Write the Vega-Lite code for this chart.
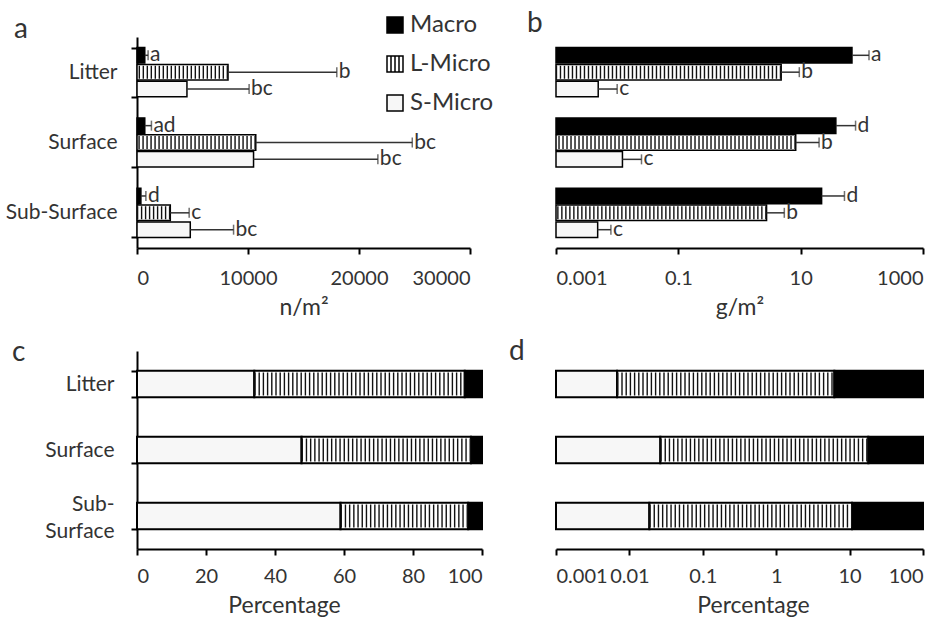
{
"$schema": "https://vega.github.io/schema/vega-lite/v6.json",
"background": "white",
"padding": {"left": 5, "top": 10, "right": 5, "bottom": 5},
"datasets": {
"abund": [
{"site":"Litter","cls":"Macro","val":700,"hi":1000,"lab":"a"},
{"site":"Litter","cls":"L-Micro","val":8200,"hi":18000,"lab":"b"},
{"site":"Litter","cls":"S-Micro","val":4500,"hi":10100,"lab":"bc"},
{"site":"Surface","cls":"Macro","val":700,"hi":1300,"lab":"ad"},
{"site":"Surface","cls":"L-Micro","val":10700,"hi":24800,"lab":"bc"},
{"site":"Surface","cls":"S-Micro","val":10500,"hi":21700,"lab":"bc"},
{"site":"Sub-Surface","cls":"Macro","val":350,"hi":800,"lab":"d"},
{"site":"Sub-Surface","cls":"L-Micro","val":3000,"hi":4700,"lab":"c"},
{"site":"Sub-Surface","cls":"S-Micro","val":4800,"hi":8700,"lab":"bc"}
],
"bio": [
{"site":"Litter","cls":"Macro","val":69,"hi":131,"lab":"a"},
{"site":"Litter","cls":"L-Micro","val":4.8,"hi":9.5,"lab":"b"},
{"site":"Litter","cls":"S-Micro","val":0.0049,"hi":0.01,"lab":"c"},
{"site":"Surface","cls":"Macro","val":37.6,"hi":79,"lab":"d"},
{"site":"Surface","cls":"L-Micro","val":8.3,"hi":20,"lab":"b"},
{"site":"Surface","cls":"S-Micro","val":0.0122,"hi":0.025,"lab":"c"},
{"site":"Sub-Surface","cls":"Macro","val":22,"hi":52,"lab":"d"},
{"site":"Sub-Surface","cls":"L-Micro","val":2.77,"hi":5.4,"lab":"b"},
{"site":"Sub-Surface","cls":"S-Micro","val":0.0048,"hi":0.0079,"lab":"c"}
],
"pctn": [
{"site":"Litter","cls":"S-Micro","lo":0,"hi":34},
{"site":"Litter","cls":"L-Micro","lo":34,"hi":95},
{"site":"Litter","cls":"Macro","lo":95,"hi":100},
{"site":"Surface","cls":"S-Micro","lo":0,"hi":47.7},
{"site":"Surface","cls":"L-Micro","lo":47.7,"hi":96.8},
{"site":"Surface","cls":"Macro","lo":96.8,"hi":100},
{"site":"Sub-Surface","cls":"S-Micro","lo":0,"hi":59},
{"site":"Sub-Surface","cls":"L-Micro","lo":59,"hi":96},
{"site":"Sub-Surface","cls":"Macro","lo":96,"hi":100}
],
"pctb": [
{"site":"Litter","cls":"S-Micro","lo":0.001,"hi":0.0068},
{"site":"Litter","cls":"L-Micro","lo":0.0068,"hi":6.2},
{"site":"Litter","cls":"Macro","lo":6.2,"hi":100},
{"site":"Surface","cls":"S-Micro","lo":0.001,"hi":0.0264},
{"site":"Surface","cls":"L-Micro","lo":0.0264,"hi":18},
{"site":"Surface","cls":"Macro","lo":18,"hi":100},
{"site":"Sub-Surface","cls":"S-Micro","lo":0.001,"hi":0.0187},
{"site":"Sub-Surface","cls":"L-Micro","lo":0.0187,"hi":10.8},
{"site":"Sub-Surface","cls":"Macro","lo":10.8,"hi":100}
]
},
"columns": 2,
"spacing": {"row": 103, "column": 74},
"bounds": "flush",
"align": "each",
"resolve": {"scale": {"fill": "shared"}, "legend": {"fill": "shared"}},
"concat": [
{
"width": 333, "height": 211,
"data": {"name": "abund"},
"title": {"text": "a", "anchor": "start", "frame": "group", "dx": -123, "offset": 0, "dy": 40, "fontSize": 28, "fontWeight": "normal", "color": "#333", "baseline": "alphabetic"},
"encoding": {
"y": {"field": "site", "type": "nominal", "sort": ["Litter","Surface","Sub-Surface"], "scale": {"paddingInner": 0.3, "paddingOuter": 0.15}, "axis": {"title": null, "tickBand": "extent", "labelPadding": 14, "labelFontSize": 21}},
"yOffset": {"field": "cls", "type": "nominal", "sort": ["Macro","L-Micro","S-Micro"], "scale": {"paddingInner": 0.08}}
},
"layer": [
{"mark": {"type": "bar", "stroke": "black", "strokeWidth": 1.5},
"encoding": {
"x": {"field": "val", "type": "quantitative", "scale": {"domain": [0, 30000]}, "axis": {"values": [0,10000,20000,30000], "format": "d", "title": "n/m²", "labelPadding": 14, "titlePadding": 8}},
"fill": {"field": "cls", "type": "nominal", "scale": {"domain": ["Macro","L-Micro","S-Micro"], "range": ["#000000","#ffffff","#f7f7f7"]},
"legend": {"orient": "none", "legendX": 246, "legendY": -24, "title": null, "symbolType": "square", "symbolSize": 256, "symbolStrokeColor": "black", "symbolStrokeWidth": 1.5, "labelFontSize": 24, "labelColor": "#333", "rowPadding": 15, "labelOffset": 3,
"encode": {"symbols": {"update": {"shape": {"signal": "datum.value === 'L-Micro' ? 'M-1,-1H1V1H-1ZM-0.5,-1V1M0,-1V1M0.5,-1V1' : 'square'"}}}}}}
}},
{"transform": [{"filter": "datum.cls === 'L-Micro'"}],
"mark": {"type": "rule", "color": "#111", "strokeWidth": 13, "strokeDash": [1.4, 2.6], "strokeCap": "butt"},
"encoding": {"x": {"field": "val", "type": "quantitative"}, "x2": {"datum": 0}}},
{"mark": {"type": "rule", "color": "#333", "strokeWidth": 1.5},
"encoding": {"x": {"field": "val", "type": "quantitative"}, "x2": {"field": "hi"}}},
{"mark": {"type": "tick", "color": "#333", "orient": "vertical", "size": 10, "thickness": 1.5},
"encoding": {"x": {"field": "hi", "type": "quantitative"}}},
{"mark": {"type": "text", "align": "left", "baseline": "middle", "dx": 2, "fontSize": 21, "color": "#333"},
"encoding": {"x": {"field": "hi", "type": "quantitative"}, "text": {"field": "lab"}}}
]
},
{
"width": 367, "height": 211,
"data": {"name": "bio"},
"title": {"text": "b", "anchor": "start", "frame": "group", "dx": -29, "offset": 0, "dy": 23, "fontSize": 28, "fontWeight": "normal", "color": "#333", "baseline": "alphabetic"},
"encoding": {
"y": {"field": "site", "type": "nominal", "sort": ["Litter","Surface","Sub-Surface"], "scale": {"paddingInner": 0.3, "paddingOuter": 0.15}, "axis": null},
"yOffset": {"field": "cls", "type": "nominal", "sort": ["Macro","L-Micro","S-Micro"], "scale": {"paddingInner": 0.08}}
},
"layer": [
{"mark": {"type": "bar", "stroke": "black", "strokeWidth": 1.5},
"encoding": {
"x": {"field": "val", "type": "quantitative", "scale": {"type": "log", "domain": [0.001, 1000]}, "axis": {"values": [0.001,0.1,10,1000], "format": "~g", "title": "g/m²", "labelPadding": 14, "titlePadding": 8}},
"x2": {"datum": 0.001},
"fill": {"field": "cls", "type": "nominal", "scale": {"domain": ["Macro","L-Micro","S-Micro"], "range": ["#000000","#ffffff","#f7f7f7"]}}
}},
{"transform": [{"filter": "datum.cls === 'L-Micro'"}],
"mark": {"type": "rule", "color": "#111", "strokeWidth": 13, "strokeDash": [1.4, 2.6], "strokeCap": "butt"},
"encoding": {"x": {"field": "val", "type": "quantitative"}, "x2": {"datum": 0.001}}},
{"mark": {"type": "rule", "color": "#333", "strokeWidth": 1.5},
"encoding": {"x": {"field": "val", "type": "quantitative"}, "x2": {"field": "hi"}}},
{"mark": {"type": "tick", "color": "#333", "orient": "vertical", "size": 10, "thickness": 1.5},
"encoding": {"x": {"field": "hi", "type": "quantitative"}}},
{"mark": {"type": "text", "align": "left", "baseline": "middle", "dx": 2, "fontSize": 21, "color": "#333"},
"encoding": {"x": {"field": "hi", "type": "quantitative"}, "text": {"field": "lab"}}}
]
},
{
"width": 345, "height": 198,
"data": {"name": "pctn"},
"title": {"text": "c", "anchor": "start", "frame": "group", "dx": -125, "offset": 0, "dy": 49, "fontSize": 28, "fontWeight": "normal", "color": "#333", "baseline": "alphabetic"},
"encoding": {
"y": {"field": "site", "type": "nominal", "sort": ["Litter","Surface","Sub-Surface"], "scale": {"paddingInner": 0.6, "paddingOuter": 0.3}, "axis": {"title": null, "tickBand": "extent", "labelPadding": 17, "labelFontSize": 21, "labelExpr": "datum.label == 'Sub-Surface' ? ['Sub-', 'Surface'] : datum.label", "labelLineHeight": 27, "labelOffset": {"condition": {"test": "datum.value == 'Sub-Surface'", "value": -12}, "value": 0}}}
},
"layer": [
{"mark": {"type": "bar", "stroke": "black", "strokeWidth": 2},
"encoding": {
"x": {"field": "lo", "type": "quantitative", "scale": {"domain": [0, 100]}, "axis": {"values": [0,20,40,60,80,100], "title": "Percentage", "labelPadding": 11, "titlePadding": 8, "titleX": 147, "titleAlign": "center"}},
"x2": {"field": "hi"},
"fill": {"field": "cls", "type": "nominal", "scale": {"domain": ["Macro","L-Micro","S-Micro"], "range": ["#000000","#ffffff","#f7f7f7"]}}
}},
{"transform": [{"filter": "datum.cls === 'L-Micro'"}],
"mark": {"type": "rule", "color": "#111", "strokeWidth": 23, "strokeDash": [1.4, 2.8], "strokeCap": "butt"},
"encoding": {"x": {"field": "lo", "type": "quantitative"}, "x2": {"field": "hi"}}}
]
},
{
"width": 367, "height": 198,
"data": {"name": "pctb"},
"title": {"text": "d", "anchor": "start", "frame": "group", "dx": -47, "offset": 0, "dy": 37, "fontSize": 28, "fontWeight": "normal", "color": "#333", "baseline": "alphabetic"},
"encoding": {
"y": {"field": "site", "type": "nominal", "sort": ["Litter","Surface","Sub-Surface"], "scale": {"paddingInner": 0.6, "paddingOuter": 0.3}, "axis": null}
},
"layer": [
{"mark": {"type": "bar", "stroke": "black", "strokeWidth": 2},
"encoding": {
"x": {"field": "lo", "type": "quantitative", "scale": {"type": "log", "domain": [0.001, 100]}, "axis": {"values": [0.001,0.01,0.1,1,10,100], "format": "~g", "title": "Percentage", "labelPadding": 11, "titlePadding": 8, "titleX": 197, "titleAlign": "center"}},
"x2": {"field": "hi"},
"fill": {"field": "cls", "type": "nominal", "scale": {"domain": ["Macro","L-Micro","S-Micro"], "range": ["#000000","#ffffff","#f7f7f7"]}}
}},
{"transform": [{"filter": "datum.cls === 'L-Micro'"}],
"mark": {"type": "rule", "color": "#111", "strokeWidth": 23, "strokeDash": [1.4, 2.8], "strokeCap": "butt"},
"encoding": {"x": {"field": "lo", "type": "quantitative"}, "x2": {"field": "hi"}}}
]
}
],
"config": {
"font": "Lato",
"view": {"stroke": null},
"axis": {"domainColor": "black", "domainWidth": 2, "tickColor": "black", "tickWidth": 2, "tickSize": 6, "labelFontSize": 20, "labelColor": "#333", "labelFont": "Lato", "titleFont": "Lato", "titleFontSize": 23, "titleFontWeight": "normal", "titleColor": "#333", "grid": false},
"legend": {"labelFont": "Lato"}
}
}
